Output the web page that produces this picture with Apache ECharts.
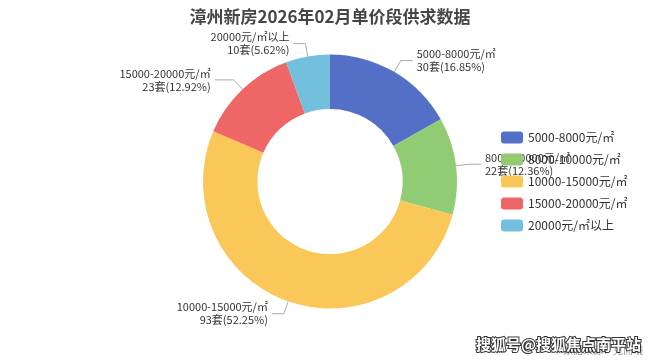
<!DOCTYPE html>
<html><head><meta charset="utf-8">
<script src="https://cdn.jsdelivr.net/npm/echarts@6/dist/echarts.min.js"></script>
<style>html,body{margin:0;padding:0;background:#fff}#c{width:660px;height:363px}</style>
</head><body><div id="c"></div>
<script>
var categories = ['5000-8000元/㎡','8000-10000元/㎡','10000-15000元/㎡','15000-20000元/㎡','20000元/㎡以上'];
var values = [30, 22, 93, 23, 10];
var percents = ['16.85%','12.36%','52.25%','12.92%','5.62%'];
var titleText = '漳州新房2026年02月单价段供求数据';
var font = '"Noto Sans CJK SC", "Microsoft YaHei", sans-serif';
var chart = echarts.init(document.getElementById('c'));
chart.setOption({
  color: ['#5470c6','#91cc75','#fac858','#ee6666','#73c0de'],
  textStyle: {fontFamily: font},
  title: {text: titleText, left: 'center', top: 3, textStyle: {fontSize: 17, fontWeight: 'bold', color: '#464646', fontFamily: font}},
  legend: {
    orient: 'vertical', left: 496, top: 'middle', itemWidth: 22, itemHeight: 12, itemGap: 10,
    itemStyle: {borderRadius: 3},
    textStyle: {fontSize: 12, color: '#333', fontFamily: font},
    data: categories
  },
  series: [{
    type: 'pie',
    center: ['50%', '50%'],
    radius: ['40%', '70%'],
    startAngle: 90,
    label: {
      fontSize: 11, color: '#333', lineHeight: 13, fontFamily: font, distanceToLabelLine: 4,
      formatter: function(p){ return p.name + '\n' + p.value + '套(' + percents[p.dataIndex] + ')'; }
    },
    labelLine: {length: 13, length2: 12, lineStyle: {color: '#aaa'}},
    data: categories.map(function(n,i){
      var d = {name: n, value: values[i]};
      if (i === 3) d.labelLine = {length2: 19};
      return d;
    })
  }],
  graphic: [
    {type: 'text', left: 563, top: 345, style: {text: '数据来源：克而瑞', fill: '#999', font: '10px ' + font}},
    {type: 'text', left: 475, top: 336, style: {text: '搜狐号@搜狐焦点南平站', fill: '#fff', stroke: '#333', lineWidth: 2, font: 'bold 15px ' + font}}
  ]
});
</script></body></html>
